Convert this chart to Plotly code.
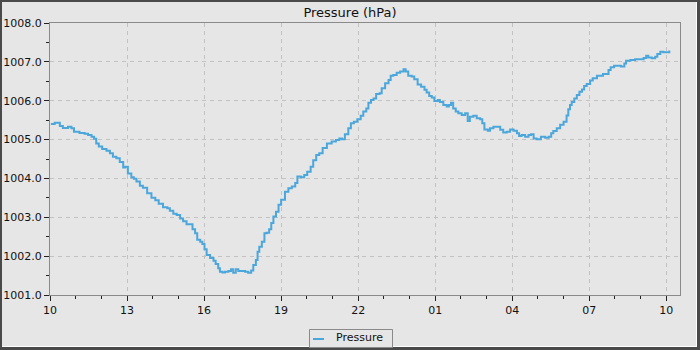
import datetime as dt
import plotly.graph_objects as go

# Barometer readings over one day, local clock time (HH:MM) and hPa
times = [
    "10:02", "10:11", "10:23", "10:30", "10:42", "10:50", "10:56", "11:09", "11:21", "11:29",
    "11:37", "11:43", "11:48", "11:54", "12:02", "12:12", "12:20", "12:27", "12:35", "12:43",
    "12:51", "12:56", "13:02", "13:10", "13:16", "13:22", "13:30", "13:37", "13:47", "13:57",
    "14:06", "14:14", "14:24", "14:34", "14:40", "14:48", "14:56", "15:04", "15:11", "15:19",
    "15:27", "15:33", "15:39", "15:44", "15:51", "15:56", "16:01", "16:06", "16:14", "16:22",
    "16:27", "16:33", "16:37", "16:43", "16:49", "16:57", "17:03", "17:08", "17:14", "17:20",
    "17:28", "17:36", "17:43", "17:50", "17:55", "18:01", "18:05", "18:09", "18:15", "18:21",
    "18:26", "18:32", "18:37", "18:42", "18:48", "18:54", "19:00", "19:09", "19:17", "19:25",
    "19:33", "19:38", "19:46", "19:54", "20:01", "20:09", "20:15", "20:22", "20:29", "20:37",
    "20:47", "20:58", "21:08", "21:16", "21:22", "21:29", "21:37", "21:43", "21:50", "21:58",
    "22:06", "22:12", "22:19", "22:24", "22:30", "22:36", "22:42", "22:50", "22:55", "23:03",
    "23:11", "23:16", "23:22", "23:30", "23:38", "23:46", "23:51", "23:57", "00:05", "00:11",
    "00:19", "00:27", "00:35", "00:40", "00:46", "00:52", "00:58", "01:06", "01:11", "01:19",
    "01:27", "01:32", "01:37", "01:42", "01:48", "01:54", "02:02", "02:10", "02:16", "02:21",
    "02:29", "02:37", "02:45", "02:50", "02:55", "03:03", "03:08", "03:16", "03:24", "03:32",
    "03:39", "03:47", "03:55", "04:03", "04:11", "04:16", "04:22", "04:30", "04:38", "04:44",
    "04:50", "04:57", "05:07", "05:17", "05:25", "05:31", "05:36", "05:44", "05:52", "06:00",
    "06:07", "06:11", "06:15", "06:19", "06:25", "06:31", "06:37", "06:43", "06:48", "06:54",
    "07:02", "07:08", "07:18", "07:25", "07:32", "07:39", "07:45", "07:50", "07:58", "08:08",
    "08:14", "08:22", "08:26", "08:36", "08:47", "08:57", "09:07", "09:13", "09:18", "09:26",
    "09:34", "09:39", "09:46", "09:53", "10:01", "10:07",
]
pressure = [
    1005.40, 1005.43, 1005.35, 1005.30, 1005.33, 1005.29, 1005.20, 1005.17, 1005.15, 1005.12,
    1005.07, 1005.02, 1004.90, 1004.82, 1004.76, 1004.71, 1004.65, 1004.56, 1004.52, 1004.42,
    1004.28, 1004.30, 1004.13, 1004.03, 1003.99, 1003.92, 1003.81, 1003.76, 1003.62, 1003.50,
    1003.44, 1003.35, 1003.26, 1003.23, 1003.17, 1003.09, 1003.06, 1002.97, 1002.90, 1002.82,
    1002.82, 1002.69, 1002.59, 1002.42, 1002.37, 1002.31, 1002.18, 1002.03, 1001.95, 1001.88,
    1001.80, 1001.69, 1001.60, 1001.58, 1001.60, 1001.62, 1001.66, 1001.57, 1001.66, 1001.62,
    1001.62, 1001.60, 1001.57, 1001.63, 1001.77, 1001.90, 1002.11, 1002.24, 1002.37, 1002.59,
    1002.60, 1002.69, 1002.85, 1003.02, 1003.14, 1003.32, 1003.45, 1003.66, 1003.75, 1003.79,
    1003.88, 1004.05, 1004.03, 1004.09, 1004.17, 1004.30, 1004.47, 1004.60, 1004.65, 1004.78,
    1004.90, 1004.95, 1004.99, 1005.03, 1005.01, 1005.14, 1005.29, 1005.42, 1005.46, 1005.52,
    1005.61, 1005.72, 1005.80, 1005.95, 1006.02, 1006.06, 1006.17, 1006.19, 1006.32, 1006.45,
    1006.53, 1006.64, 1006.66, 1006.72, 1006.75, 1006.81, 1006.75, 1006.64, 1006.62, 1006.55,
    1006.42, 1006.36, 1006.28, 1006.21, 1006.12, 1006.08, 1005.99, 1006.02, 1005.97, 1005.89,
    1005.85, 1005.89, 1005.95, 1005.80, 1005.72, 1005.68, 1005.63, 1005.68, 1005.48, 1005.59,
    1005.61, 1005.55, 1005.52, 1005.42, 1005.26, 1005.23, 1005.29, 1005.33, 1005.33, 1005.25,
    1005.18, 1005.20, 1005.26, 1005.23, 1005.16, 1005.09, 1005.12, 1005.07, 1005.12, 1005.14,
    1005.03, 1005.01, 1005.07, 1005.05, 1005.07, 1005.16, 1005.22, 1005.29, 1005.38, 1005.46,
    1005.62, 1005.78, 1005.89, 1005.97, 1006.06, 1006.15, 1006.23, 1006.29, 1006.38, 1006.43,
    1006.52, 1006.58, 1006.64, 1006.64, 1006.69, 1006.69, 1006.79, 1006.86, 1006.90, 1006.90,
    1006.88, 1006.96, 1007.03, 1007.05, 1007.07, 1007.07, 1007.10, 1007.16, 1007.11, 1007.09,
    1007.13, 1007.20, 1007.26, 1007.25, 1007.25, 1007.29,
]

series_name = "Pressure"
chart_title = "Pressure (hPa)"
start_day = dt.datetime(2024, 5, 14)

# Turn clock times into timestamps, rolling over to the next day after midnight
stamps = []
day = start_day
prev_minutes = -1
for t in times:
    hh, mm = map(int, t.split(":"))
    minutes = hh * 60 + mm
    if minutes < prev_minutes:
        day += dt.timedelta(days=1)
    prev_minutes = minutes
    stamps.append(day + dt.timedelta(minutes=minutes))

W, H = 700, 350
L, R, T, B = 50, 20, 23, 55
PW, PH = W - L - R, H - T - B


def px_x(p):
    return (p - L) / PW


def px_y(p):
    return (H - B - p) / PH


BG = "#e6e6e6"
LINE = "#4ba7db"

fig = go.Figure()
fig.add_trace(go.Scatter(
    x=stamps, y=pressure, mode="lines", name=series_name,
    line=dict(color=LINE, width=2, shape="hv"),
    showlegend=False,
))

shapes = [
    # light panel inside the dark frame
    dict(type="rect", xref="paper", yref="paper", layer="below",
         x0=px_x(2), x1=px_x(697), y0=px_y(347), y1=px_y(2),
         fillcolor=BG, line=dict(width=0)),
    # thin highlight along the right and bottom inner edge
    dict(type="line", xref="paper", yref="paper", layer="below",
         x0=px_x(696.5), x1=px_x(696.5), y0=px_y(347), y1=px_y(2),
         line=dict(color="#ffffff", width=1)),
    dict(type="line", xref="paper", yref="paper", layer="below",
         x0=px_x(2), x1=px_x(697), y0=px_y(346.5), y1=px_y(346.5),
         line=dict(color="#ffffff", width=1)),
    # legend box and its line sample
    dict(type="rect", xref="paper", yref="paper", layer="above",
         x0=px_x(309.5), x1=px_x(392.5), y0=px_y(347.5), y1=px_y(329.5),
         fillcolor=BG, line=dict(color="#8a8a8a", width=1)),
    dict(type="line", xref="paper", yref="paper", layer="above",
         x0=px_x(313), x1=px_x(324), y0=px_y(339), y1=px_y(339),
         line=dict(color=LINE, width=2)),
]

fig.update_layout(
    width=W, height=H,
    margin=dict(l=L, r=R, t=T, b=B, pad=0, autoexpand=False),
    paper_bgcolor="#4a4a4a",
    plot_bgcolor="rgba(0,0,0,0)",
    font=dict(family="DejaVu Sans", size=11, color="#111111"),
    title=dict(text=chart_title, x=0.5, xref="container", xanchor="center",
               y=1 - 12 / H, yref="container", yanchor="middle",
               font=dict(size=13, color="#111111")),
    shapes=shapes,
    annotations=[dict(text=series_name, xref="paper", yref="paper",
                      x=px_x(334), y=px_y(337), xanchor="left", yanchor="middle",
                      showarrow=False, font=dict(size=11, color="#111111"))],
    showlegend=False,
)

fig.update_xaxes(
    type="date", automargin=False,
    range=[start_day + dt.timedelta(hours=10), start_day + dt.timedelta(hours=34, minutes=32)],
    tick0=start_day + dt.timedelta(hours=10), dtick=3 * 3600 * 1000,
    tickformat="%H", ticks="outside", ticklen=5, tickcolor="#222222",
    showline=True, linecolor="#8a8a8a", linewidth=1, mirror=True,
    showgrid=True, gridcolor="#c2c2c2", griddash="4px,4px", gridwidth=1,
    zeroline=False,
    minor=dict(dtick=3600 * 1000, ticks="outside", ticklen=3, tickcolor="#222222", showgrid=False),
)
fig.update_yaxes(
    automargin=False,
    range=[1001, 1008], dtick=1, tick0=1001, tickformat=".1f",
    ticks="outside", ticklen=5, tickcolor="#222222",
    showline=True, linecolor="#8a8a8a", linewidth=1, mirror=True,
    showgrid=True, gridcolor="#c2c2c2", griddash="4px,4px", gridwidth=1,
    zeroline=False,
    minor=dict(dtick=0.5, ticks="outside", ticklen=3, tickcolor="#222222", showgrid=False),
)

fig.write_html("out.html")
